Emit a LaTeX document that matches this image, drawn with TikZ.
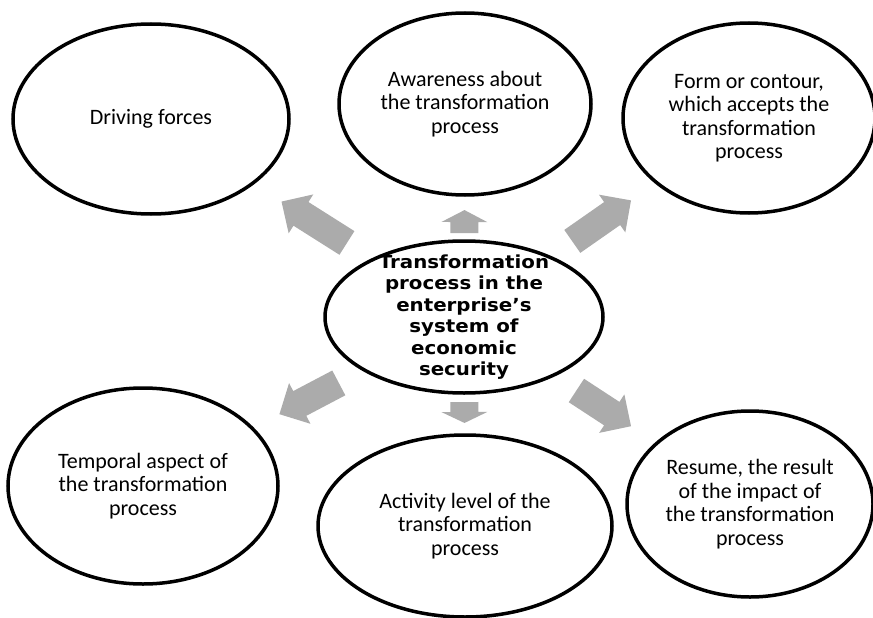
\documentclass[tikz,border=0pt]{standalone}
\usepackage{fontspec}
\setmainfont{Carlito}
\newfontfamily\hubfont[FakeStretch=1.1]{DejaVu Sans}
\usetikzlibrary{shapes.geometric, calc}
\definecolor{arrowgray}{HTML}{ABABAB}

% block arrow from the centre towards #1, from fraction #2 to #3, head length #4
\newcommand\blockarrow[4]{%
	\coordinate (bt) at ($(ctr)!#2!(#1)$);
	\coordinate (bp) at ($(ctr)!#3!(#1)$);
	\coordinate (bb) at ($(bp)!#4!(bt)$);
	\fill [arrowgray] ($(bt)!14pt!90:(bp)$)--($(bb)!14pt!90:(bp)$)--($(bb)!23pt!90:(bp)$)--(bp)
		--($(bb)!23pt!-90:(bp)$)--($(bb)!14pt!-90:(bp)$)--($(bt)!14pt!-90:(bp)$)--cycle;}

\begin{document}
\begin{tikzpicture}[x=1pt, y=-1pt,
	bubble/.style={ellipse, draw, line width=3.5pt, align=center, inner sep=0pt, font=\fontsize{22}{23.5}\selectfont},
	hubtext/.style={align=center, inner sep=0pt, font=\hubfont\bfseries\fontsize{18}{21.5}\selectfont}]

	\useasboundingbox (0,0) rectangle (873,618);%page

	\node [bubble, minimum width=276pt, minimum height=190pt] (drive) at (151,119) {Driving forces};
	\node [bubble, minimum width=252pt, minimum height=182pt] (aware) at (465,104) {Awareness about\\the transformation\\process};
	\node [bubble, minimum width=252pt, minimum height=190pt] (form) at (749,118) {Form or contour,\\which accepts the\\transformation\\process};
	\node [bubble, minimum width=278pt, minimum height=152pt] (ctr) at (464,317) {};%centre
	\node [hubtext] (ctrtext) at (ctr) {Transformation\\process in the\\enterprise’s\\system of\\economic\\security};
	\node [bubble, minimum width=270pt, minimum height=196pt] (temp) at (143,486) {Temporal aspect of\\the transformation\\process};
	\node [bubble, minimum width=294pt, minimum height=182pt] (act) at (465,526) {Activity level of the\\transformation\\process};
	\node [bubble, minimum width=246pt, minimum height=186pt] (resume) at (750,504) {Resume, the result\\of the impact of\\the transformation\\process};

	\foreach \to/\a/\b in {drive/0.374/0.583, form/0.38/0.586, temp/0.39/0.575, resume/0.393/0.584}
	\blockarrow{\to}{\a}{\b}{23pt};%diagonal arrows
	\blockarrow{aware}{0.394}{0.502}{12pt};%up
	\blockarrow{act}{0.407}{0.507}{11pt};%down

\end{tikzpicture}
\end{document}
